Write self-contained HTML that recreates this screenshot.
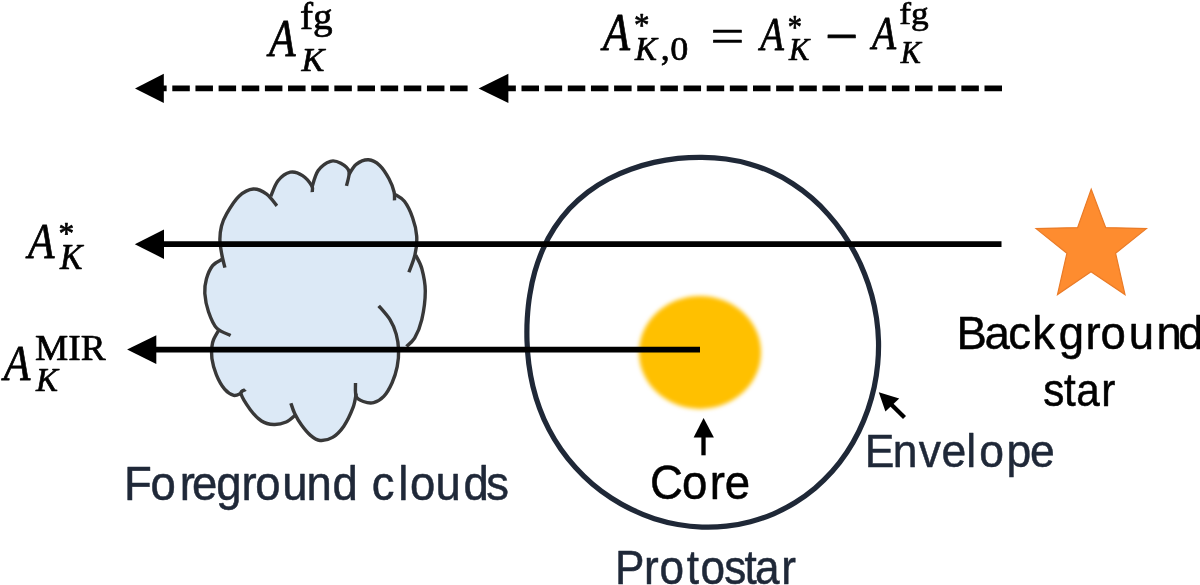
<!DOCTYPE html>
<html><head><meta charset="utf-8"><title>Protostar extinction diagram</title>
<style>
html,body{margin:0;padding:0;background:#fff;}
svg{display:block;}
.m{font-family:"Liberation Serif","DejaVu Serif",serif;}
.s{font-family:"Liberation Sans","DejaVu Sans",sans-serif;}
</style></head><body>
<svg width="1200" height="585" viewBox="0 0 1200 585">
<defs><filter id="bl" x="-20%" y="-20%" width="140%" height="140%"><feGaussianBlur stdDeviation="2.2"/></filter></defs>
<rect width="1200" height="585" fill="#fff"/>
<!-- cloud -->
<path d="M224.9 267.7C224.4 265.5 222.6 259.0 221.8 254.4C221.0 249.8 220.0 245.0 219.9 240.3C219.8 235.6 220.4 230.4 221.5 226.0C222.6 221.6 223.8 218.6 226.7 213.6C229.6 208.6 234.6 200.3 239.0 196.2C243.4 192.1 248.7 189.3 253.3 189.0C257.9 188.7 262.8 191.3 266.7 194.1C270.6 196.9 275.2 203.9 276.9 205.8L270.8 196.2C272.0 193.6 274.8 184.8 278.0 180.8C281.2 176.8 286.2 173.1 290.3 172.2C294.4 171.3 299.0 173.3 302.6 175.6C306.2 177.9 310.2 183.2 311.8 185.9C313.4 188.7 312.1 191.1 312.2 192.1L312.0 187.0C313.0 184.2 315.1 174.8 318.2 170.5C321.3 166.2 326.7 162.5 330.5 161.3C334.3 160.1 337.7 161.6 340.8 163.3C343.9 165.0 348.1 167.7 349.0 171.5C349.9 175.3 346.9 183.5 346.5 185.9L349.0 174.6C350.2 172.9 352.9 166.9 356.2 164.4C359.4 161.9 364.6 159.6 368.5 159.8C372.4 160.0 376.3 162.2 379.7 165.4C383.1 168.6 386.6 174.3 389.0 178.7C391.4 183.1 393.2 188.4 394.1 192.0C395.0 195.6 394.4 198.9 394.5 200.3L394.5 194.1C396.1 195.3 401.4 197.4 404.4 201.3C407.4 205.2 410.6 211.9 412.6 217.7C414.7 223.5 416.3 230.0 416.7 236.2C417.1 242.3 416.3 248.6 415.0 254.6C413.7 260.6 409.9 269.3 408.9 272.2L415.6 255.0C416.6 257.2 420.2 262.5 421.8 268.5C423.4 274.5 425.3 282.5 425.3 291.0C425.3 299.5 423.6 311.8 421.8 319.7C420.0 327.6 417.2 333.8 414.6 338.2C412.0 342.6 407.8 345.0 406.4 346.4L406.4 346.4C405.1 347.0 400.1 346.6 398.6 350.0C397.1 353.4 398.3 361.2 397.2 366.7C396.1 372.2 394.2 378.1 392.0 383.0C389.8 387.9 386.9 393.1 383.8 396.4C380.7 399.7 377.0 401.8 373.6 402.6C370.2 403.5 366.2 402.5 363.3 401.5C360.4 400.5 357.5 399.5 356.2 396.4C354.9 393.3 355.6 385.2 355.5 383.0L356.2 393.3C355.7 395.7 355.1 402.2 353.0 407.7C350.9 413.2 347.2 421.2 343.8 426.2C340.4 431.1 336.6 435.0 332.6 437.4C328.6 439.8 323.7 440.8 320.0 440.5C316.3 440.2 313.6 438.0 310.5 435.4C307.4 432.8 304.1 428.7 301.5 425.1C298.9 421.5 296.6 417.5 294.8 413.8C293.0 410.1 291.5 405.0 290.9 403.2L294.8 415.5C293.4 416.6 289.7 420.5 286.2 422.0C282.7 423.5 277.9 424.7 273.8 424.5C269.7 424.3 265.4 423.5 261.5 421.0C257.6 418.5 253.7 414.2 250.3 409.7C246.9 405.1 241.8 397.0 241.0 393.7C240.2 390.4 244.8 390.3 245.5 389.6L241.0 393.3C239.8 393.6 236.5 396.1 233.8 395.4C231.1 394.7 227.5 392.6 224.6 389.2C221.7 385.8 218.5 380.0 216.4 374.9C214.3 369.8 212.6 363.3 211.9 358.5C211.2 353.7 211.7 349.4 212.0 346.2C212.3 343.0 212.5 342.1 213.6 339.5C214.7 336.9 217.8 331.8 218.7 330.3L230.6 335.4C228.3 334.2 220.4 332.1 216.7 328.2C213.0 324.3 210.5 317.6 208.5 311.8C206.5 306.0 205.2 298.8 204.8 293.3C204.5 287.8 205.1 283.6 206.4 279.0C207.7 274.4 210.0 268.9 212.6 265.6C215.2 262.4 220.3 260.5 221.8 259.5Z" fill="#dce9f6"/>
<g fill="none" stroke="#383838" stroke-width="3.4" stroke-linecap="butt" stroke-linejoin="round"><path d="M224.9 267.7C224.4 265.5 222.6 259.0 221.8 254.4C221.0 249.8 220.0 245.0 219.9 240.3C219.8 235.6 220.4 230.4 221.5 226.0C222.6 221.6 223.8 218.6 226.7 213.6C229.6 208.6 234.6 200.3 239.0 196.2C243.4 192.1 248.7 189.3 253.3 189.0C257.9 188.7 262.8 191.3 266.7 194.1C270.6 196.9 275.2 203.9 276.9 205.8"/><path d="M270.8 196.2C272.0 193.6 274.8 184.8 278.0 180.8C281.2 176.8 286.2 173.1 290.3 172.2C294.4 171.3 299.0 173.3 302.6 175.6C306.2 177.9 310.2 183.2 311.8 185.9C313.4 188.7 312.1 191.1 312.2 192.1"/><path d="M312.0 187.0C313.0 184.2 315.1 174.8 318.2 170.5C321.3 166.2 326.7 162.5 330.5 161.3C334.3 160.1 337.7 161.6 340.8 163.3C343.9 165.0 348.1 167.7 349.0 171.5C349.9 175.3 346.9 183.5 346.5 185.9"/><path d="M349.0 174.6C350.2 172.9 352.9 166.9 356.2 164.4C359.4 161.9 364.6 159.6 368.5 159.8C372.4 160.0 376.3 162.2 379.7 165.4C383.1 168.6 386.6 174.3 389.0 178.7C391.4 183.1 393.2 188.4 394.1 192.0C395.0 195.6 394.4 198.9 394.5 200.3"/><path d="M394.5 194.1C396.1 195.3 401.4 197.4 404.4 201.3C407.4 205.2 410.6 211.9 412.6 217.7C414.7 223.5 416.3 230.0 416.7 236.2C417.1 242.3 416.3 248.6 415.0 254.6C413.7 260.6 409.9 269.3 408.9 272.2"/><path d="M415.6 255.0C416.6 257.2 420.2 262.5 421.8 268.5C423.4 274.5 425.3 282.5 425.3 291.0C425.3 299.5 423.6 311.8 421.8 319.7C420.0 327.6 417.2 333.8 414.6 338.2C412.0 342.6 407.8 345.0 406.4 346.4"/><path d="M378.7 305.8C380.6 308.1 387.1 315.0 390.0 319.7C392.9 324.4 394.8 329.1 396.2 334.1C397.6 339.2 398.4 344.6 398.6 350.0C398.8 355.4 398.3 361.2 397.2 366.7C396.1 372.2 394.2 378.1 392.0 383.0C389.8 387.9 386.9 393.1 383.8 396.4C380.7 399.7 377.0 401.8 373.6 402.6C370.2 403.5 366.2 402.5 363.3 401.5C360.4 400.5 357.5 399.5 356.2 396.4C354.9 393.3 355.6 385.2 355.5 383.0"/><path d="M356.2 393.3C355.7 395.7 355.1 402.2 353.0 407.7C350.9 413.2 347.2 421.2 343.8 426.2C340.4 431.1 336.6 435.0 332.6 437.4C328.6 439.8 323.7 440.8 320.0 440.5C316.3 440.2 313.6 438.0 310.5 435.4C307.4 432.8 304.1 428.7 301.5 425.1C298.9 421.5 296.6 417.5 294.8 413.8C293.0 410.1 291.5 405.0 290.9 403.2"/><path d="M294.8 415.5C293.4 416.6 289.7 420.5 286.2 422.0C282.7 423.5 277.9 424.7 273.8 424.5C269.7 424.3 265.4 423.5 261.5 421.0C257.6 418.5 253.7 414.2 250.3 409.7C246.9 405.1 241.8 397.0 241.0 393.7C240.2 390.4 244.8 390.3 245.5 389.6"/><path d="M241.0 393.3C239.8 393.6 236.5 396.1 233.8 395.4C231.1 394.7 227.5 392.6 224.6 389.2C221.7 385.8 218.5 380.0 216.4 374.9C214.3 369.8 212.6 363.3 211.9 358.5C211.2 353.7 211.7 349.4 212.0 346.2C212.3 343.0 212.5 342.1 213.6 339.5C214.7 336.9 217.8 331.8 218.7 330.3"/><path d="M230.6 335.4C228.3 334.2 220.4 332.1 216.7 328.2C213.0 324.3 210.5 317.6 208.5 311.8C206.5 306.0 205.2 298.8 204.8 293.3C204.5 287.8 205.1 283.6 206.4 279.0C207.7 274.4 210.0 268.9 212.6 265.6C215.2 262.4 220.3 260.5 221.8 259.5"/></g>
<!-- envelope -->
<path d="M878.5 341.0C878.7 348.7 878.4 356.4 877.7 364.1C877.0 371.8 875.8 379.5 874.2 387.1C872.5 394.7 870.4 402.3 867.9 409.7C865.3 417.1 862.3 424.4 858.8 431.5C855.3 438.6 851.4 445.6 846.9 452.2C842.5 458.8 837.6 465.3 832.3 471.3C826.9 477.3 821.1 483.0 815.0 488.2C808.8 493.4 802.1 498.2 795.2 502.5C788.3 506.8 781.0 510.6 773.6 513.8C766.1 517.0 758.3 519.6 750.4 521.7C742.6 523.8 734.4 525.3 726.4 526.2C718.3 527.1 710.1 527.4 702.0 527.1C693.9 526.8 685.8 525.9 677.8 524.5C669.9 523.1 662.0 521.1 654.4 518.7C646.8 516.2 639.3 513.2 632.1 509.7C624.9 506.3 618.0 502.3 611.3 498.0C604.7 493.7 598.4 489.0 592.4 483.9C586.4 478.8 580.7 473.3 575.5 467.5C570.2 461.8 565.3 455.6 560.9 449.3C556.5 442.9 552.4 436.2 548.9 429.4C545.3 422.6 542.2 415.5 539.6 408.3C536.9 401.1 534.7 393.7 532.9 386.3C531.1 378.9 529.8 371.3 528.8 363.8C527.8 356.2 527.3 348.6 527.0 341.0C526.8 333.4 526.8 325.7 527.3 318.0C527.8 310.3 528.5 302.6 529.8 294.9C531.0 287.2 532.6 279.4 534.8 271.8C537.0 264.1 539.7 256.5 542.9 249.2C546.2 241.8 550.0 234.6 554.5 227.8C558.9 221.0 564.0 214.5 569.5 208.5C575.1 202.6 581.3 197.1 587.8 192.1C594.3 187.2 601.3 182.8 608.5 179.0C615.7 175.2 623.2 171.9 630.8 169.2C638.4 166.4 646.3 164.2 654.1 162.4C662.0 160.6 670.0 159.3 678.0 158.4C685.9 157.6 694.0 157.2 702.0 157.3C710.0 157.4 718.1 157.9 726.0 159.0C733.9 160.1 741.8 161.7 749.4 163.9C757.1 166.1 764.7 168.9 771.9 172.2C779.2 175.5 786.2 179.4 792.8 183.7C799.5 188.0 805.8 192.8 811.8 198.0C817.7 203.1 823.3 208.7 828.4 214.6C833.6 220.4 838.4 226.6 842.8 233.0C847.2 239.3 851.2 246.0 854.8 252.8C858.5 259.5 861.7 266.5 864.5 273.7C867.4 280.8 869.8 288.1 871.8 295.5C873.8 302.9 875.4 310.4 876.5 318.0C877.6 325.6 878.3 333.3 878.5 341.0Z" fill="none" stroke="#1f2837" stroke-width="5.2"/>
<!-- core -->
<ellipse cx="700" cy="352.4" rx="61" ry="56.5" fill="#ffc000" filter="url(#bl)"/>
<!-- dashed arrows -->
<g stroke="#000" stroke-width="5.8" fill="none">
<line x1="1002" y1="88.3" x2="498" y2="88.3" stroke-dasharray="17.5 5.65"/>
<line x1="467.6" y1="88.3" x2="149" y2="88.3" stroke-dasharray="17.5 5.65"/>
<line x1="1001.5" y1="244.1" x2="160" y2="244.1"/>
<line x1="700" y1="349.65" x2="152" y2="349.65"/>
</g>
<g fill="#000">
<polygon points="478.6,88.4 508.4,73.8 508.4,103"/>
<polygon points="135,88.4 163.8,73.8 163.8,103"/>
<polygon points="134.8,244.2 164,229.5 164,258.9"/>
<polygon points="127.1,349.6 156.3,335.2 156.3,364"/>
</g>
<!-- small arrows -->
<g stroke="#000" stroke-width="4.3" fill="none">
<line x1="703.5" y1="455.3" x2="703.5" y2="432"/>
<line x1="904.5" y1="417.5" x2="888" y2="401.3"/>
</g>
<g fill="#000">
<polygon points="703.6,418 713.9,437.5 693.6,437.5"/>
<polygon points="878.8,392.2 899.2,398.6 885.4,411.4"/>
</g>
<!-- star -->
<polygon points="1091.2,189.2 1105.7,227.6 1146.4,228.6 1115.6,253.3 1125,294.6 1091,271.7 1057.5,294.6 1066.9,253.3 1036.1,228.6 1077.6,227.6" fill="#fe8c2f" stroke="#ea7b27" stroke-width="1.2" stroke-linejoin="miter"/>
<g opacity="0.999">
<text class="m" transform="matrix(0.4348 0 0 0.5202 268.92 55.89)" font-size="100" font-style="italic" fill="#000" stroke="#000" stroke-width="1.466" stroke-linejoin="round">A</text>
<text class="m" transform="matrix(0.3920 0 0 0.3721 299.96 28.67)" font-size="100" fill="#000" stroke="#000" stroke-width="1.832" stroke-linejoin="round">fg</text>
<text class="m" transform="matrix(0.3435 0 0 0.3441 301.48 70.89)" font-size="100" font-style="italic" fill="#000" stroke="#000" stroke-width="2.036" stroke-linejoin="round">K</text>
<text class="m" transform="matrix(0.4421 0 0 0.5202 603.10 49.54)" font-size="100" font-style="italic" fill="#000" stroke="#000" stroke-width="1.455" stroke-linejoin="round">A</text>
<text class="m" transform="matrix(0.3096 0 0 0.3460 633.90 35.79)" font-size="100" fill="#000" stroke="#000" stroke-width="2.135" stroke-linejoin="round">*</text>
<text class="m" transform="matrix(0.3291 0 0 0.3390 635.11 60.39)" font-size="100" font-style="italic" fill="#000" stroke="#000" stroke-width="2.095" stroke-linejoin="round">K</text>
<text class="m" transform="matrix(0.3594 0 0 0.3634 660.80 59.70)" font-size="100" fill="#000" stroke="#000" stroke-width="1.937" stroke-linejoin="round">,</text>
<text class="m" transform="matrix(0.3611 0 0 0.3400 670.29 60.10)" font-size="100" fill="#000" stroke="#000" stroke-width="1.997" stroke-linejoin="round">0</text>
<text class="m" transform="matrix(0.5990 0 0 0.5055 710.56 53.17)" font-size="100" fill="#000" stroke="#000" stroke-width="1.268" stroke-linejoin="round">=</text>
<text class="m" transform="matrix(0.3873 0 0 0.4664 760.32 49.54)" font-size="100" font-style="italic" fill="#000" stroke="#000" stroke-width="1.640" stroke-linejoin="round">A</text>
<text class="m" transform="matrix(0.2846 0 0 0.3273 787.72 37.70)" font-size="100" fill="#000" stroke="#000" stroke-width="2.288" stroke-linejoin="round">*</text>
<text class="m" transform="matrix(0.3041 0 0 0.3227 788.93 59.74)" font-size="100" font-style="italic" fill="#000" stroke="#000" stroke-width="2.234" stroke-linejoin="round">K</text>
<text class="m" transform="matrix(0.5904 0 0 0.5950 825.07 55.91)" font-size="100" fill="#000" stroke="#000" stroke-width="1.181" stroke-linejoin="round">−</text>
<text class="m" transform="matrix(0.3944 0 0 0.4592 872.12 49.39)" font-size="100" font-style="italic" fill="#000" stroke="#000" stroke-width="1.640" stroke-linejoin="round">A</text>
<text class="m" transform="matrix(0.3534 0 0 0.3204 899.18 24.49)" font-size="100" fill="#000" stroke="#000" stroke-width="2.078" stroke-linejoin="round">fg</text>
<text class="m" transform="matrix(0.3013 0 0 0.3090 900.76 62.94)" font-size="100" font-style="italic" fill="#000" stroke="#000" stroke-width="2.294" stroke-linejoin="round">K</text>
<text class="m" transform="matrix(0.4335 0 0 0.5130 28.09 257.54)" font-size="100" font-style="italic" fill="#000" stroke="#000" stroke-width="1.479" stroke-linejoin="round">A</text>
<text class="m" transform="matrix(0.3134 0 0 0.3135 58.59 243.53)" font-size="100" fill="#000" stroke="#000" stroke-width="2.233" stroke-linejoin="round">*</text>
<text class="m" transform="matrix(0.3371 0 0 0.3527 59.95 268.94)" font-size="100" font-style="italic" fill="#000" stroke="#000" stroke-width="2.029" stroke-linejoin="round">K</text>
<text class="m" transform="matrix(0.4354 0 0 0.5130 3.80 379.54)" font-size="100" font-style="italic" fill="#000" stroke="#000" stroke-width="1.476" stroke-linejoin="round">A</text>
<text class="m" transform="matrix(0.3738 0 0 0.3527 34.99 359.94)" font-size="100" fill="#000" stroke="#000" stroke-width="1.927" stroke-linejoin="round">MIR</text>
<text class="m" transform="matrix(0.3293 0 0 0.3456 35.95 390.74)" font-size="100" font-style="italic" fill="#000" stroke="#000" stroke-width="2.074" stroke-linejoin="round">K</text>
<text class="s" dx="-7.37 -2.97 8.79 -6.05 -2.42 -0.11 -3.30 3.74 -1.87 1.65 0 2.75 8.02 3.74 0.44 5.83 -5.39" transform="matrix(0.4548 0 0 0.4756 127.31 499.70)" font-size="100" fill="#1f2838" stroke="#1f2838" stroke-width="1.075" stroke-linejoin="round">Foreground clouds</text>
<text class="s" dx="-0.77 -2.08 5.48 -0.77" transform="matrix(0.4563 0 0 0.4902 650.30 498.70)" font-size="100" fill="#000" stroke="#000" stroke-width="1.057" stroke-linejoin="round">Core</text>
<text class="s" dx="-8.77 -3.93 2.92 0.90 0.45 6.97 5.62 -2.92" transform="matrix(0.4449 0 0 0.4684 868.67 467.20)" font-size="100" fill="#1f2838" stroke="#1f2838" stroke-width="1.095" stroke-linejoin="round">Envelope</text>
<text class="s" dx="-5.33 -1.02 2.04 6.12 3.29 -1.70 -4.54 -3.63 3.63" transform="matrix(0.4410 0 0 0.4756 617.42 584.40)" font-size="100" fill="#1f2838" stroke="#1f2838" stroke-width="1.091" stroke-linejoin="round">Protostar</text>
<text class="s" dx="-6.15 -5.49 -3.07 2.64 8.13 3.29 -0.44 6.15 5.71 -7.91" transform="matrix(0.4553 0 0 0.4698 959.31 349.40)" font-size="100" fill="#000" stroke="#000" stroke-width="1.081" stroke-linejoin="round">Background</text>
<text class="s" dx="-4.73 -0.59 1.06 3.55" transform="matrix(0.4227 0 0 0.4698 1045.21 405.60)" font-size="100" fill="#000" stroke="#000" stroke-width="1.120" stroke-linejoin="round">star</text>
</g>
</svg>
</body></html>
